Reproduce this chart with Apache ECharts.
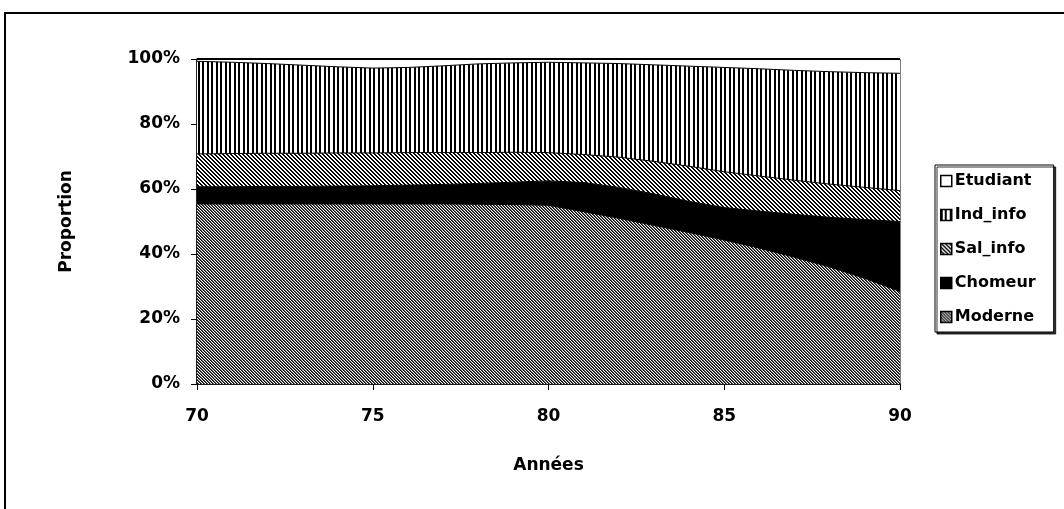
<!DOCTYPE html>
<html>
<head>
<meta charset="utf-8">
<script src="https://cdn.jsdelivr.net/npm/echarts@6/dist/echarts.min.js"></script>
<style>
html,body{margin:0;padding:0;background:#fff;}
#chart{width:1064px;height:509px;}
</style>
</head>
<body>
<div id="chart"></div>
<script>
// ---- data ----
var years = ['70','71','72','73','74','75','76','77','78','79','80','81','82','83','84','85','86','87','88','89','90'];
var moderne  = [55.4,55.4,55.4,55.4,55.4,55.4,55.4,55.4,55.3,55.2,55.0,53.0,51.0,48.8,46.6,44.3,41.8,39.0,36.0,32.5,28.5];
var chomeur  = [5.3,5.3,5.4,5.4,5.5,5.6,5.8,6.0,6.4,6.9,7.5,9.0,9.5,9.7,9.6,10.0,11.4,13.2,15.3,18.1,21.5];
var salInfo  = [10.1,10.2,10.2,10.2,10.2,10.1,10.0,9.8,9.5,9.2,8.7,8.6,9.3,10.0,10.8,11.0,10.8,10.5,10.2,9.9,9.5];
var indInfo  = [28.5,28.1,27.6,27.1,26.5,26.1,26.2,26.7,27.3,27.5,27.8,28.2,28.8,29.7,30.8,32.1,33.0,33.8,34.6,35.3,36.1];
var etudiant = [0.7,1.0,1.4,1.9,2.4,2.8,2.6,2.1,1.5,1.2,1.0,1.2,1.4,1.8,2.2,2.6,3.0,3.5,3.9,4.2,4.4];
var yTicks = [0,20,40,60,80,100];
var legendOrder = ['Etudiant','Ind_info','Sal_info','Chomeur','Moderne'];

// ---- patterns ----
function makePattern(w, h, fn) {
  var c = document.createElement('canvas');
  c.width = w; c.height = h;
  var ctx = c.getContext('2d');
  var img = ctx.createImageData(w, h);
  for (var y = 0; y < h; y++) {
    for (var x = 0; x < w; x++) {
      var v = fn(x, y);
      var i = (y * w + x) * 4;
      img.data[i] = v; img.data[i+1] = v; img.data[i+2] = v; img.data[i+3] = 255;
    }
  }
  ctx.putImageData(img, 0, 0);
  return c;
}
var patModerne = makePattern(3, 3, function (x, y) {
  var m = ((x - y) % 3 + 3) % 3;
  return m === 0 ? 0 : (m === 1 ? 90 : 255);
});
var patSal = makePattern(4, 4, function (x, y) {
  var m = ((x - y) % 4 + 4) % 4;
  return (m === 0 || m === 1) ? 0 : 255;
});
var patInd = makePattern(9, 1, function (x) {
  var m = x % 9;
  return (m === 0 || m === 1 || m === 4 || m === 5) ? 0 : 255;
});
var fills = {
  'Moderne': {image: patModerne, repeat: 'repeat'},
  'Chomeur': '#000',
  'Sal_info': {image: patSal, repeat: 'repeat'},
  'Ind_info': {image: patInd, repeat: 'repeat'},
  'Etudiant': '#fff'
};

function mk(name, data, lw) {
  return {
    name: name, type: 'line', stack: 'total', data: data,
    showSymbol: false, symbol: 'none', smooth: false,
    lineStyle: {color: '#000', width: lw || 1},
    itemStyle: {color: '#000'},
    areaStyle: {color: fills[name], opacity: 1},
    emphasis: {disabled: true},
    animation: false
  };
}

var font = 'DejaVu Sans';
var chart = echarts.init(document.getElementById('chart'), null, {renderer: 'canvas'});
chart.setOption({
  backgroundColor: '#fff',
  animation: false,
  grid: {left: 197, right: 164, top: 59, bottom: 125, show: true, borderColor: '#000', borderWidth: 1, backgroundColor: 'transparent'},
  legend: {
    orient: 'vertical', left: 935, top: 165,
    padding: [8, 18, 7, 5],
    itemWidth: 11, itemHeight: 11, itemGap: 18,
    icon: 'rect',
    borderColor: '#000', borderWidth: 1,
    shadowColor: 'rgba(0,0,0,0.8)', shadowOffsetX: 2, shadowOffsetY: 2, shadowBlur: 0,
    backgroundColor: '#fff',
    textStyle: {fontFamily: font, fontSize: 16, fontWeight: 'bold', color: '#000', padding: [0,0,0,-2]},
    selectedMode: false,
    data: legendOrder.map(function (n) {
      return {name: n, itemStyle: {color: fills[n], borderColor: '#000', borderWidth: 1.5}};
    })
  },
  xAxis: {
    type: 'category', data: years, boundaryGap: false,
    name: 'Années', nameLocation: 'middle', nameGap: 73,
    nameTextStyle: {fontFamily: font, fontSize: 17, fontWeight: 'bold', color: '#000'},
    axisLine: {lineStyle: {color: '#000', width: 1.5}},
    axisTick: {interval: 4, length: 6, lineStyle: {color: '#000'}},
    axisLabel: {interval: 4, margin: 24, fontFamily: font, fontSize: 17, fontWeight: 'bold', color: '#000'},
    splitLine: {show: false}
  },
  yAxis: {
    type: 'value', min: 0, max: 100, interval: 20,
    name: 'Proportion', nameLocation: 'middle', nameGap: 122, nameRotate: 90,
    nameTextStyle: {fontFamily: font, fontSize: 17, fontWeight: 'bold', color: '#000'},
    axisLine: {show: true, lineStyle: {color: '#000', width: 1.5}},
    axisTick: {show: true, length: 6, lineStyle: {color: '#000'}},
    axisLabel: {margin: 17, fontFamily: font, fontSize: 17, fontWeight: 'bold', color: '#000',
      formatter: function (v) { return v + '%'; }},
    splitLine: {show: false}
  },
  graphic: [{
    type: 'rect', silent: true, z: -1,
    shape: {x: 5, y: 13, width: 1120, height: 600},
    style: {fill: 'none', stroke: '#000', lineWidth: 2}
  }],
  series: [
    mk('Moderne', moderne),
    mk('Chomeur', chomeur),
    mk('Sal_info', salInfo),
    mk('Ind_info', indInfo),
    mk('Etudiant', etudiant, 2)
  ]
});
</script>
</body>
</html>
